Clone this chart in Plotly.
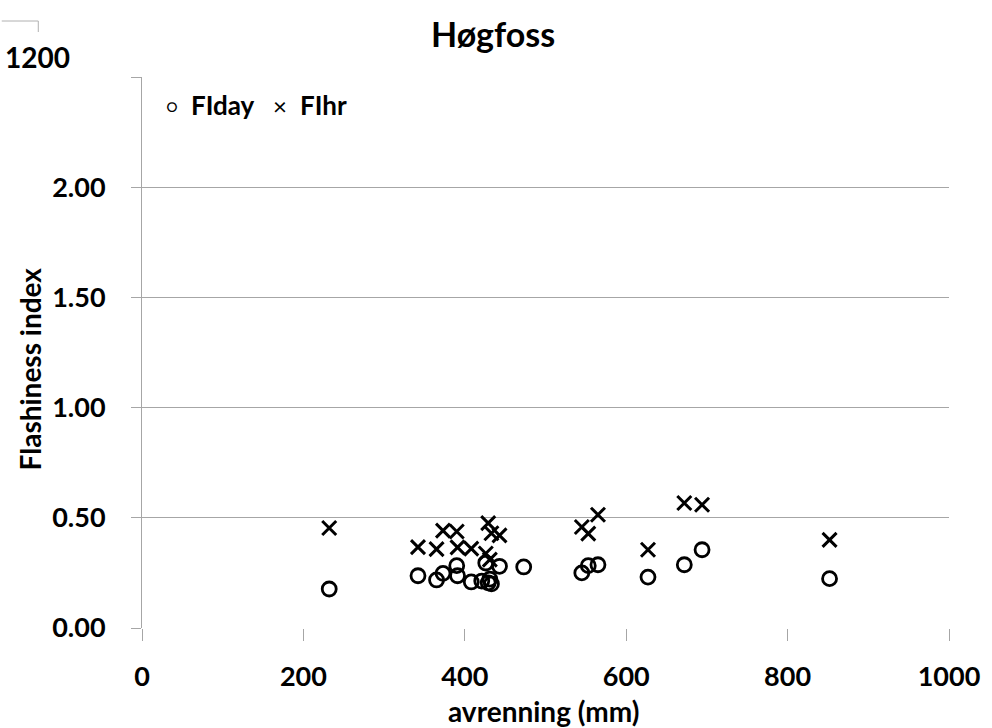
import plotly.graph_objects as go

# Annual runoff (mm) and flashiness indices at Høgfoss
avrenning = [232, 342, 365, 373, 390, 391, 408, 421, 426, 429, 431, 433, 443, 473,
             545, 553, 565, 627, 672, 694, 852]
fi_day = [0.177, 0.237, 0.218, 0.248, 0.283, 0.237, 0.209, 0.213, 0.295, 0.205, 0.222,
          0.200, 0.280, 0.277, 0.250, 0.283, 0.287, 0.231, 0.287, 0.355, 0.224]
fi_hr = [0.454, 0.367, 0.358, 0.442, 0.438, 0.366, 0.360, None, 0.338, 0.476, 0.310,
         0.430, 0.420, None, 0.458, 0.428, 0.514, 0.355, 0.567, 0.559, 0.400]

y_tickvals = [0.0, 0.5, 1.0, 1.5, 2.0, 2.5]
y_ticktext = ["0.00", "0.50", "1.00", "1.50", "2.00", ""]
x_tickvals = [0, 200, 400, 600, 800, 1000]

W, H = 992, 728
L, R, T, B = 142, 33, 77, 100
FONT = "Lato, 'Open Sans', sans-serif"
GRID = "#a6a6a6"


def px_to_paper(px, py):
    return (px - L) / (W - L - R), (H - B - py) / (H - T - B)


fig = go.Figure()
fig.add_trace(go.Scatter(
    x=avrenning, y=fi_day, mode="markers", name="FIday",
    marker=dict(symbol="circle-open", size=14, color="black", line=dict(width=2.8)),
))
fig.add_trace(go.Scatter(
    x=avrenning, y=fi_hr, mode="markers", name="FIhr",
    marker=dict(symbol="x-thin-open", size=14, color="black", line=dict(width=3)),
))

annotations = [
    dict(text="<b>Høgfoss</b>", x=497, y=33, size=34),
    dict(text="<b>avrenning (mm)</b>", x=548, y=711, size=28),
    dict(text="<b>Flashiness index</b>", x=29, y=369, size=28, textangle=-90),
    dict(text="<b>1200</b>", x=1, y=57, xanchor="left", size=28),
    # legend entries
    dict(text="○", x=172, y=106, size=18),
    dict(text="<b>FIday</b>", x=190, y=105, xanchor="left", size=26),
    dict(text="×", x=282, y=105, size=24),
    dict(text="<b>FIhr</b>", x=300, y=105, xanchor="left", size=26),
]
ann_objs = []
for a in annotations:
    xp, yp = px_to_paper(a["x"], a["y"])
    ann_objs.append(dict(
        text=a["text"], x=xp, y=yp, xref="paper", yref="paper",
        xanchor=a.get("xanchor", "center"), yanchor="middle",
        textangle=a.get("textangle", 0), showarrow=False,
        font=dict(family=FONT, size=a["size"], color="black"),
    ))

# small corner bracket at the top-left edge
x0, y0 = px_to_paper(0, 21)
x1, y1 = px_to_paper(37, 21)
x2, y2 = px_to_paper(37, 32)
shapes = [dict(type="path", xref="paper", yref="paper",
               path=f"M {x0} {y0} L {x1} {y1} L {x2} {y2}",
               line=dict(color="#b0b0b0", width=1))]

tick_font = dict(family=FONT, size=27, color="black", weight="bold")

fig.update_layout(
    width=W, height=H,
    margin=dict(l=L, r=R, t=T, b=B),
    plot_bgcolor="white", paper_bgcolor="white",
    showlegend=False,
    annotations=ann_objs,
    shapes=shapes,
    xaxis=dict(range=[0, 1000], tickvals=x_tickvals, showgrid=False, zeroline=False,
               showline=False, ticks="outside", ticklen=12, tickcolor=GRID,
               tickfont=tick_font, ticklabelstandoff=13),
    yaxis=dict(range=[0, 2.5], tickvals=y_tickvals, ticktext=y_ticktext,
               showgrid=True, gridcolor=GRID, gridwidth=1, zeroline=False,
               showline=True, linecolor=GRID, ticks="outside", ticklen=10,
               tickcolor=GRID, tickfont=tick_font, ticklabelstandoff=20),
)

fig.write_html("out.html")
